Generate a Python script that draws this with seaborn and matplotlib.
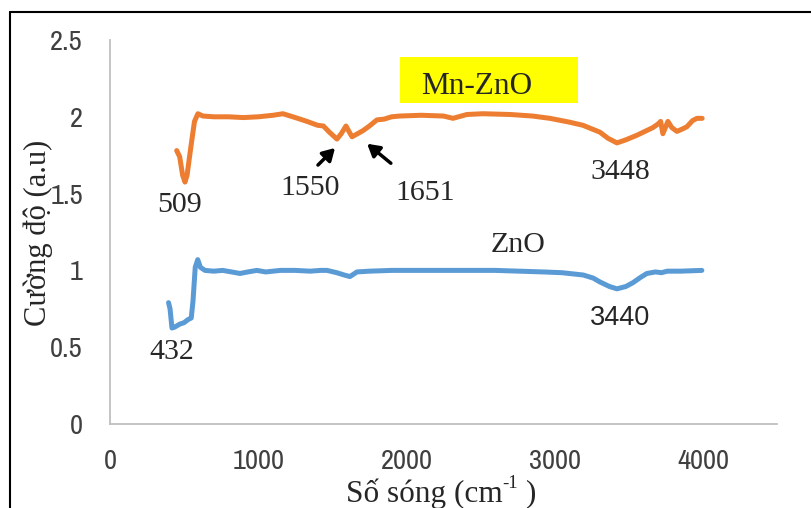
import matplotlib
matplotlib.use("Agg")
import matplotlib.pyplot as plt
from matplotlib.lines import Line2D
from matplotlib import font_manager
from matplotlib.font_manager import FontProperties
import seaborn as sns
import pandas as pd

# ---- data ----
mn_x = [450, 470, 490, 506, 520, 545, 570, 593, 627, 700, 800, 900, 1000, 1100, 1167,
        1250, 1329, 1400, 1440, 1480, 1531, 1560, 1592, 1615, 1633, 1670, 1707, 1750,
        1801, 1850, 1900, 1956, 2100, 2250, 2314, 2408, 2516, 2700, 2850, 2968, 3100,
        3190, 3305, 3360, 3420, 3480, 3555, 3620, 3663, 3700, 3715, 3730, 3764, 3790,
        3825, 3860, 3892, 3930, 3960, 3995]
mn_y = [1.78, 1.74, 1.62, 1.575, 1.62, 1.80, 1.97, 2.02, 2.005, 2.0, 2.0, 1.995, 2.0,
        2.01, 2.02, 1.995, 1.97, 1.945, 1.94, 1.90, 1.855, 1.89, 1.94, 1.90, 1.87,
        1.89, 1.91, 1.94, 1.98, 1.985, 2.0, 2.005, 2.01, 2.005, 1.99, 2.015, 2.02,
        2.015, 2.005, 1.99, 1.965, 1.945, 1.90, 1.86, 1.83, 1.85, 1.88, 1.91, 1.93,
        1.955, 1.97, 1.89, 1.97, 1.93, 1.905, 1.92, 1.935, 1.975, 1.99, 1.99]

zn_x = [395, 405, 418, 435, 470, 500, 527, 548, 560, 575, 592, 610, 641, 700, 760,
        820, 877, 930, 991, 1050, 1150, 1250, 1350, 1420, 1464, 1530, 1580, 1619,
        1666, 1750, 1900, 2200, 2600, 2922, 3050, 3193, 3260, 3305, 3370, 3420, 3480,
        3528, 3580, 3622, 3680, 3720, 3760, 3850, 3993]
zn_y = [0.79, 0.75, 0.625, 0.63, 0.65, 0.66, 0.68, 0.69, 0.80, 1.02, 1.07, 1.02, 1.0,
        0.995, 1.0, 0.99, 0.98, 0.99, 1.0, 0.99, 1.0, 1.0, 0.995, 1.0, 1.0, 0.985,
        0.97, 0.96, 0.99, 0.995, 1.0, 1.0, 1.0, 0.99, 0.985, 0.97, 0.95, 0.925,
        0.895, 0.88, 0.895, 0.92, 0.955, 0.98, 0.99, 0.985, 0.995, 0.995, 1.0]

x_ticks = [0, 1000, 2000, 3000, 4000]
y_ticks = [0, 0.5, 1, 1.5, 2, 2.5]
y_tick_labels = ["0", "0.5", "1", "1.5", "2", "2.5"]

# ---- style ----
sns.set_theme(style="white")

narrow_fp = None
for f in font_manager.fontManager.ttflist:
    if ("Narrow" in f.name or "Condensed" in f.name) and f.style == "normal" and f.weight in (400, "normal"):
        narrow_fp = FontProperties(fname=f.fname)
        break
if narrow_fp is None:
    for f in font_manager.fontManager.ttflist:
        if f.name == "DejaVu Sans" and f.stretch == "condensed" and f.style == "normal" and f.weight in (400, "normal"):
            narrow_fp = FontProperties(fname=f.fname)
            break
if narrow_fp is None:
    narrow_fp = FontProperties(family="DejaVu Sans")
narrow_fp.set_size(20.5)

serif = ["Liberation Serif", "DejaVu Serif"]

W, H = 811, 508
fig = plt.figure(figsize=(W / 100, H / 100), dpi=100)
ax = fig.add_axes([110 / W, 1 - 424 / H, (777 - 110) / W, (424 - 40) / H])

df_mn = pd.DataFrame({"x": mn_x, "y": mn_y})
df_zn = pd.DataFrame({"x": zn_x, "y": zn_y})
sns.lineplot(data=df_mn, x="x", y="y", ax=ax, sort=False, estimator=None,
             color="#ED7D31", linewidth=3.6, solid_capstyle="round", solid_joinstyle="round")
sns.lineplot(data=df_zn, x="x", y="y", ax=ax, sort=False, estimator=None,
             color="#5B9BD5", linewidth=3.6, solid_capstyle="round", solid_joinstyle="round")

ax.set_xlim(0, 4500)
ax.set_ylim(0, 2.5)
ax.set_xticks(x_ticks)
ax.set_xticklabels([str(t) for t in x_ticks], fontproperties=narrow_fp)
ax.set_yticks(y_ticks)
ax.set_yticklabels(y_tick_labels, fontproperties=narrow_fp)
ax.tick_params(axis="both", length=0, colors="#404040")
ax.tick_params(axis="x", pad=18)
ax.tick_params(axis="y", pad=19.5)
for s in ["top", "right"]:
    ax.spines[s].set_visible(False)
for s in ["left", "bottom"]:
    ax.spines[s].set_color("#BFBFBF")
    ax.spines[s].set_linewidth(1.3)
ax.grid(False)
ax.set_xlabel("")
ax.set_ylabel("")

# x label with superscript (built from pieces)
renderer = fig.canvas.get_renderer()
parts = [("Số sóng (cm", 22.5, 0), ("-1", 13.5, 9), (" )", 22.5, 0)]
widths = []
for s, fs, dy in parts:
    t = fig.text(0, 0, s, family=serif, fontsize=fs)
    widths.append(t.get_window_extent(renderer).width)
    t.remove()
total = sum(widths)
xpos = 441 - total / 2
for (s, fs, dy), w in zip(parts, widths):
    fig.text(xpos / W, 1 - (490 - dy) / H, s, family=serif, fontsize=fs,
             ha="left", va="center_baseline")
    xpos += w

fig.text(38 / W, 1 - 233 / H, "Cường độ (a.u)", ha="center", va="center",
         rotation=90, family=serif, fontsize=22)

def ftxt(px, py, s, **kw):
    fig.text(px / W, 1 - py / H, s, ha="center", va="center", **kw)

ftxt(180, 205, "509", family=serif, fontsize=21.5)
ftxt(310, 188, "1550", family=serif, fontsize=21.5)
ftxt(425, 193, "1651", family=serif, fontsize=21.5)
ftxt(620, 172, "3448", family=serif, fontsize=21.5)
ftxt(518, 245, "ZnO", family=serif, fontsize=21.5)
ftxt(172, 352, "432", family=serif, fontsize=21.5)
ftxt(620, 318, "3440", family=["Liberation Sans", "DejaVu Sans"], fontsize=19.5)

# Mn-ZnO label with yellow box
fig.patches.append(plt.Rectangle((400 / W, 1 - 103 / H), 178 / W, 46 / H,
                                 transform=fig.transFigure, facecolor="#FFFF00",
                                 edgecolor="none", zorder=1))
ftxt(477, 86, "Mn-ZnO", family=serif, fontsize=22.5, zorder=2)

# arrows
for tail, head in [((316, 167), (337, 146)), ((393, 165), (365, 142))]:
    ax.annotate("", xy=(head[0] / W, 1 - head[1] / H), xytext=(tail[0] / W, 1 - tail[1] / H),
                xycoords="figure fraction", textcoords="figure fraction",
                arrowprops=dict(arrowstyle="-|>,head_length=0.6,head_width=0.35",
                                color="black", lw=2.5))

# chart border (top and left visible)
fig.lines.append(Line2D([9.5 / W, 9.5 / W], [0, 1 - 12 / H], transform=fig.transFigure,
                        color="black", linewidth=1.5))
fig.lines.append(Line2D([9.5 / W, 1], [1 - 12 / H, 1 - 12 / H], transform=fig.transFigure,
                        color="black", linewidth=1.5))

fig.savefig("out.png", dpi=100)
